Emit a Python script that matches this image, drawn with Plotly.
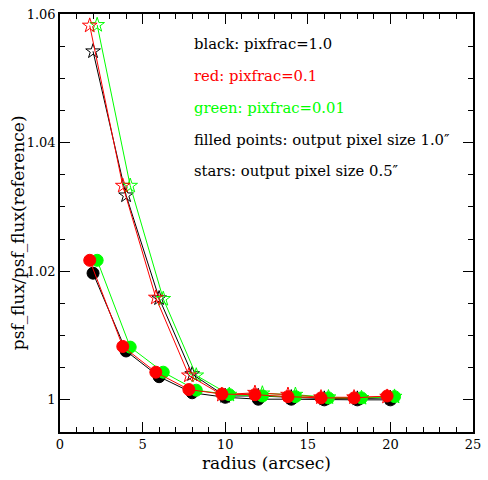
import plotly.graph_objects as go

radius = [2, 4, 6, 8, 10, 12, 14, 16, 18, 20]
offset_red = -0.2
offset_green = 0.25

# filled points: output pixel size 1.0"
filled_black = [1.0197, 1.0076, 1.0036, 1.0011, 1.0004, 1.0001, 1.0001, 1.0000, 1.0000, 1.0000]
filled_red   = [1.0217, 1.0083, 1.0043, 1.0016, 1.0009, 1.0008, 1.0005, 1.0003, 1.0003, 1.0006]
filled_green = [1.0217, 1.0082, 1.0043, 1.0015, 1.0008, 1.0006, 1.0005, 1.0003, 1.0003, 1.0005]

# stars: output pixel size 0.5"
star_black = [1.0542, 1.0318, 1.0158, 1.0040, 1.0006, 1.0006, 1.0004, 1.0002, 1.0002, 1.0003]
star_red   = [1.0582, 1.0333, 1.0159, 1.0038, 1.0008, 1.0011, 1.0008, 1.0004, 1.0004, 1.0005]
star_green = [1.0583, 1.0333, 1.0157, 1.0038, 1.0008, 1.0010, 1.0008, 1.0004, 1.0003, 1.0005]

labels = ["black: pixfrac=1.0", "red: pixfrac=0.1", "green: pixfrac=0.01",
          "filled points: output pixel size 1.0\u2033", "stars: output pixel size 0.5\u2033"]
label_colors = ["black", "#ff0000", "#00ff00", "black", "black"]

BLACK, RED, GREEN = "black", "#ff0000", "#00ff00"
FONT = "DejaVu Serif"

fig = go.Figure()

def add(xs, ys, color, symbol, size):
    fig.add_trace(go.Scatter(
        x=xs, y=ys, mode="lines+markers",
        line=dict(color=color, width=1),
        marker=dict(symbol=symbol, size=size, color=color,
                    line=dict(color=color, width=1)),
        showlegend=False, cliponaxis=False))

xr = [r + offset_red for r in radius]
xg = [r + offset_green for r in radius]

add(radius, star_black, BLACK, "star-open", 11)
add(xg, star_green, GREEN, "star-open", 11)
add(xr, star_red, RED, "star-open", 11)
add(radius, filled_black, BLACK, "circle", 12)
add(xg, filled_green, GREEN, "circle", 12)
add(xr, filled_red, RED, "circle", 12)

for i, (t, c) in enumerate(zip(labels, label_colors)):
    fig.add_annotation(x=0.32, xref="paper", xanchor="left",
                       y=1 - (30 + 32 * i) / 421, yref="paper", yanchor="middle",
                       text=t, showarrow=False,
                       font=dict(family=FONT, size=14.8, color=c))

# y axis title placed as rotated annotation
fig.add_annotation(x=(18 - 60) / 421, xref="paper", xanchor="center",
                   y=1 - (231 - 11) / 421, yref="paper", yanchor="middle",
                   text="psf_flux/psf_flux(reference)", textangle=-90,
                   showarrow=False,
                   font=dict(family=FONT, size=17, color="black"))

axis_common = dict(
    showline=True, linecolor="black", linewidth=1.5, mirror="ticks",
    ticks="inside", ticklen=10, tickwidth=1, tickcolor="black",
    showgrid=False, zeroline=False,
    tickfont=dict(family=FONT, size=13, color="black"),
)

fig.update_xaxes(range=[0, 25], tickvals=[0, 5, 10, 15, 20, 25],
                 minor=dict(dtick=1, tick0=0, ticks="inside", ticklen=5,
                            tickcolor="black", showgrid=False),
                 title=dict(text="radius (arcsec)", standoff=6,
                            font=dict(family=FONT, size=17, color="black")),
                 **axis_common)
fig.update_yaxes(range=[0.995, 1.06], tickvals=[1.0, 1.02, 1.04, 1.06],
                 ticktext=["1", "1.02", "1.04", "1.06"],
                 minor=dict(dtick=0.005, tick0=1.0, ticks="inside", ticklen=5,
                            tickcolor="black", showgrid=False),
                 **axis_common)

fig.update_layout(width=488, height=480,
                  margin=dict(l=60, r=7, t=11, b=48),
                  plot_bgcolor="white", paper_bgcolor="white")

fig.write_html("out.html")
